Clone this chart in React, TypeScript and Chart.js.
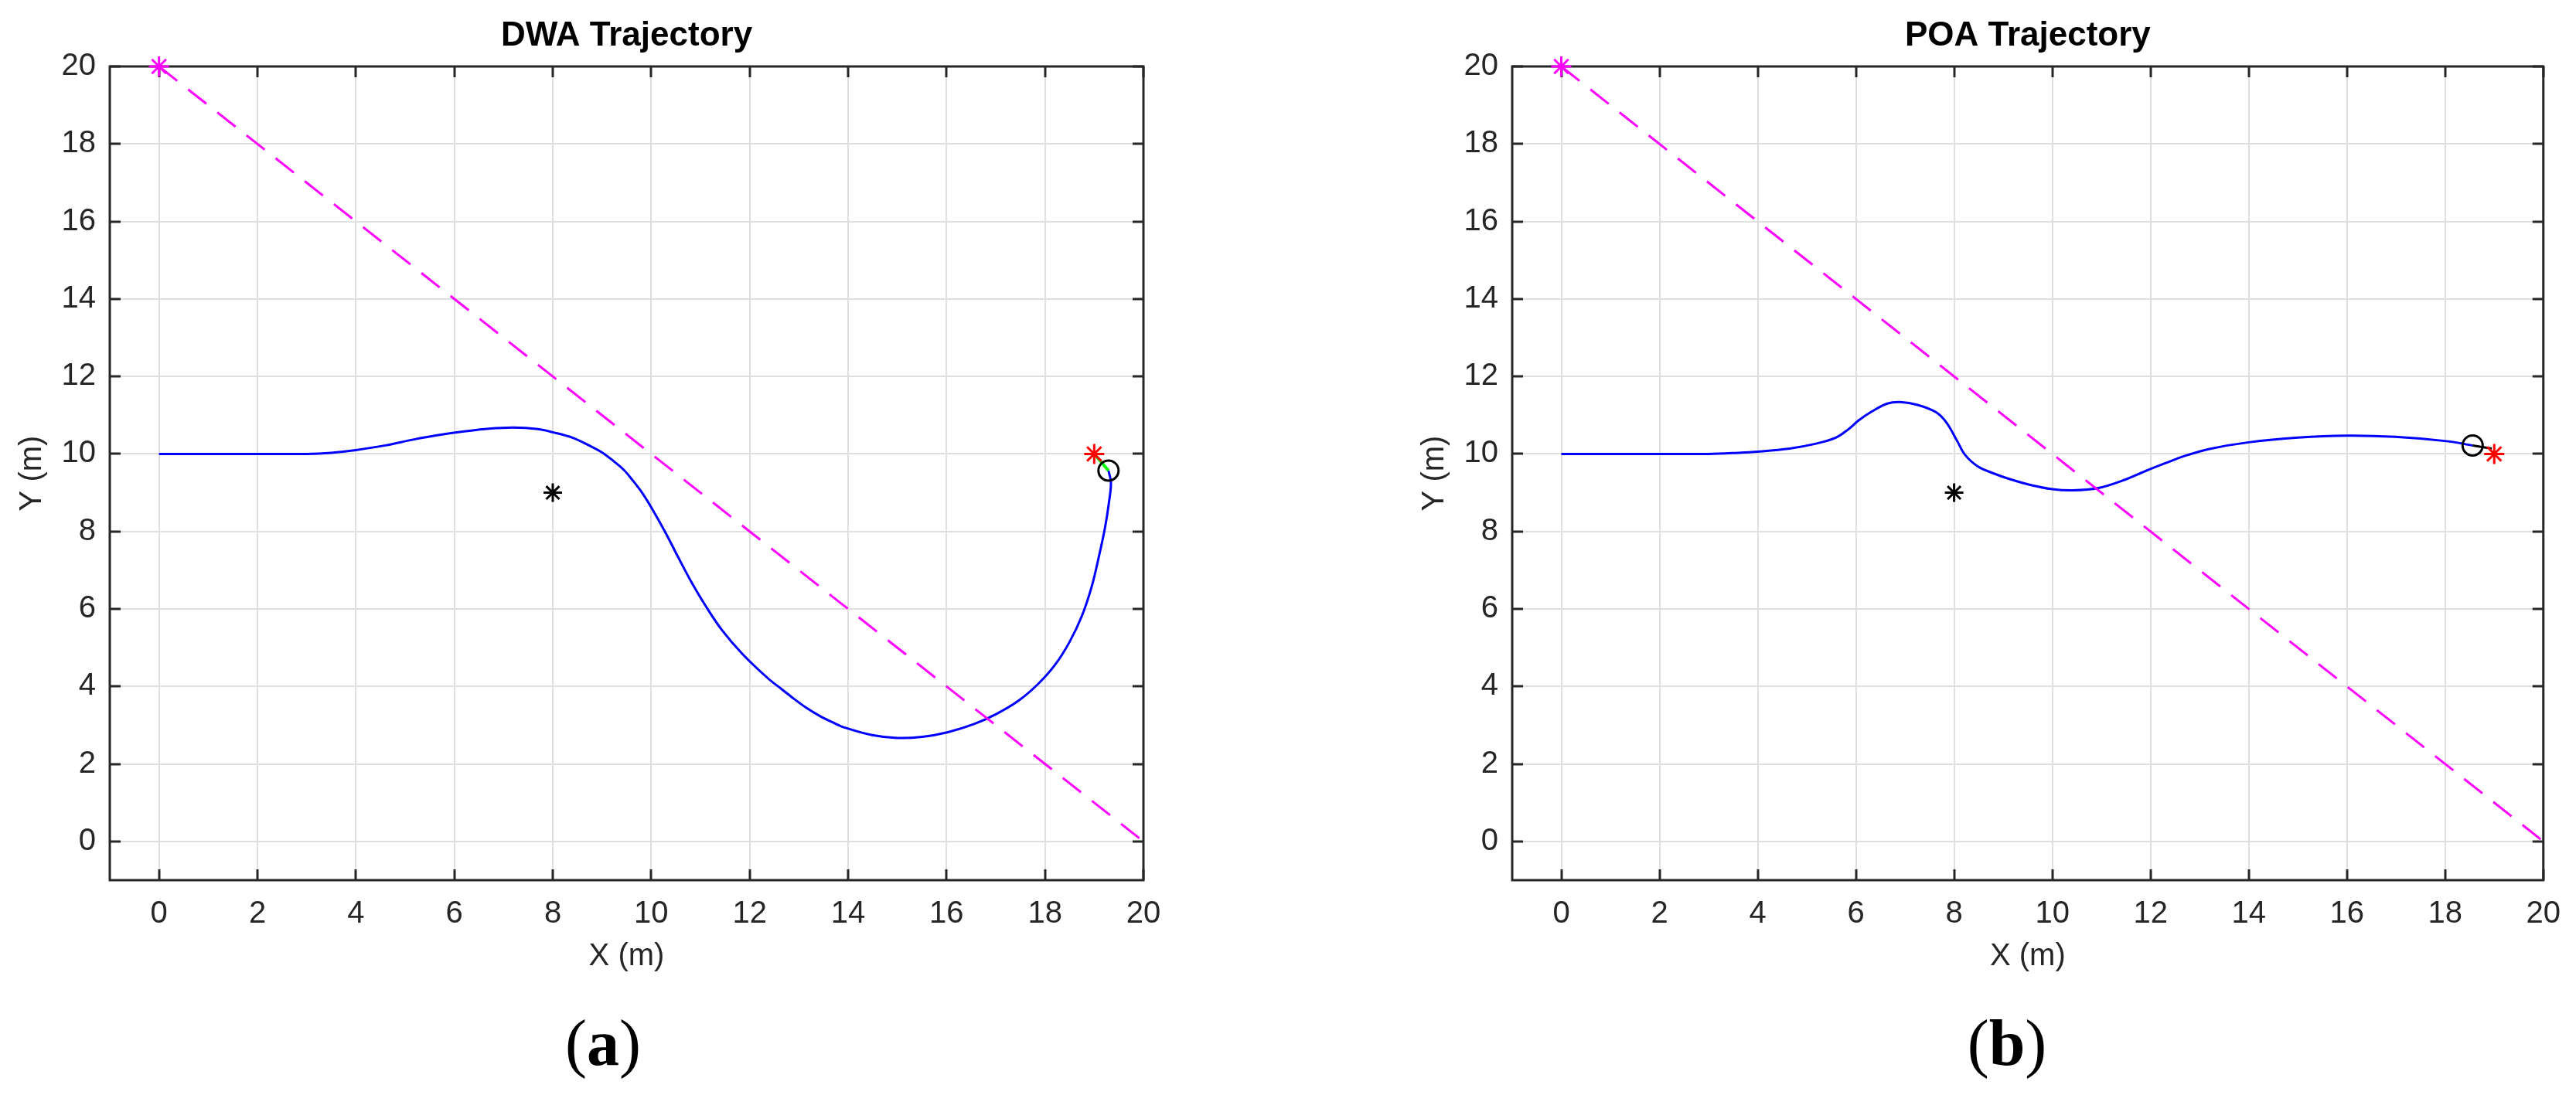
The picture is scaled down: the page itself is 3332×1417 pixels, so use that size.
import React, { useEffect, useRef } from 'react';
import { Chart, registerables } from 'chart.js';

Chart.register(...registerables);

// ---------- data ----------
const xTicks = [0, 2, 4, 6, 8, 10, 12, 14, 16, 18, 20];
const yTicks = [0, 2, 4, 6, 8, 10, 12, 14, 16, 18, 20];

const dwaX = [0, 1, 2, 3, 3.5, 4, 4.6, 5.2, 5.8, 6.2, 6.7, 7.2, 7.7, 8.0, 8.4, 8.72, 9.0, 9.24, 9.45, 9.61, 9.82, 10.03, 10.29, 10.55, 10.81, 11.12, 11.44, 11.86, 12.38, 12.64, 12.9, 13.16, 13.42, 13.69, 13.95, 14.47, 14.99, 15.51, 16.03, 16.56, 17.0, 17.45, 17.85, 18.2, 18.5, 18.75, 18.95, 19.1, 19.22, 19.3, 19.34, 19.29];
const dwaY = [10, 10, 10, 10, 10.03, 10.1, 10.22, 10.38, 10.51, 10.58, 10.65, 10.68, 10.64, 10.56, 10.42, 10.23, 10.04, 9.81, 9.58, 9.34, 8.99, 8.56, 7.97, 7.33, 6.71, 6.05, 5.45, 4.83, 4.2, 3.94, 3.68, 3.44, 3.24, 3.07, 2.93, 2.75, 2.67, 2.7, 2.82, 3.03, 3.28, 3.62, 4.05, 4.55, 5.15, 5.82, 6.58, 7.38, 8.1, 8.75, 9.25, 9.57];

const poaX = [0, 1, 2, 3, 3.6, 4, 4.65, 5.17, 5.59, 5.85, 6.06, 6.33, 6.64, 6.9, 7.27, 7.64, 7.85, 8.06, 8.22, 8.48, 8.8, 9.11, 9.55, 10.0, 10.42, 10.94, 11.47, 11.9, 12.3, 12.7, 13.2, 14, 15, 16, 16.98, 18.03, 18.56];
const poaY = [10, 10, 10, 10, 10.03, 10.06, 10.14, 10.26, 10.42, 10.64, 10.87, 11.1, 11.3, 11.34, 11.26, 11.07, 10.8, 10.34, 9.98, 9.68, 9.5, 9.36, 9.2, 9.09, 9.06, 9.12, 9.33, 9.56, 9.76, 9.95, 10.13, 10.3, 10.42, 10.47, 10.44, 10.33, 10.22];

const refLineX = [0, 20];
const refLineY = [20, 0];
const startPoint = [0, 20];
const obstaclePoint = [8, 9];
const goalPoint = [19, 10];

const dwaEnd = [19.29, 9.57];
const dwaTailX = [19.29, 19.0];
const dwaTailY = [9.57, 10.0];

const poaEnd = [18.56, 10.22];
const poaTailX = [18.56, 18.95];
const poaTailY = [10.22, 10.14];

// ---------- helpers ----------
const FONT = '"Liberation Sans", Arial, Helvetica, sans-serif';
const pts = (xs: number[], ys: number[]) => xs.map((x, i) => ({ x, y: ys[i] }));

const framePlugin = {
  id: 'frame',
  beforeDatasetsDraw(chart: any) {
    const { ctx, chartArea: a, scales } = chart;
    ctx.save();
    ctx.strokeStyle = '#262626';
    ctx.lineWidth = 3;
    const tl = 14;
    ctx.beginPath();
    for (const v of xTicks) {
      const px = Math.round(scales.x.getPixelForValue(v));
      ctx.moveTo(px, a.bottom);
      ctx.lineTo(px, a.bottom - tl);
      ctx.moveTo(px, a.top);
      ctx.lineTo(px, a.top + tl);
    }
    for (const v of yTicks) {
      const py = Math.round(scales.y.getPixelForValue(v));
      ctx.moveTo(a.left, py);
      ctx.lineTo(a.left + tl, py);
      ctx.moveTo(a.right, py);
      ctx.lineTo(a.right - tl, py);
    }
    ctx.stroke();
    ctx.strokeRect(a.left, a.top, a.right - a.left, a.bottom - a.top);
    ctx.restore();
  },
  afterDraw(chart: any, _args: any, opts: any) {
    const { ctx, chartArea: a } = chart;
    const cx = (a.left + a.right) / 2;
    ctx.save();
    ctx.textAlign = 'center';
    ctx.textBaseline = 'middle';
    ctx.fillStyle = '#000000';
    ctx.font = `bold 44px ${FONT}`;
    ctx.fillText(opts.title, cx, 47);
    ctx.fillStyle = '#262626';
    ctx.font = `40px ${FONT}`;
    ctx.fillText(opts.xLabel, cx, 1238);
    ctx.translate(a.left - 100, (a.top + a.bottom) / 2);
    ctx.rotate(-Math.PI / 2);
    ctx.fillText(opts.yLabel, 0, 0);
    ctx.restore();
  },
};

function buildConfig(title: string, tx: number[], ty: number[], endPt: number[], tailX: number[], tailY: number[], tailColor: string, tailWidth: number, padL: number, padR: number) {
  const marker = (p: number[], style: string, color: string, r: number) => ({
    data: [{ x: p[0], y: p[1] }],
    showLine: false,
    pointStyle: style,
    pointRadius: r,
    pointBorderWidth: 3,
    borderColor: color,
    pointBorderColor: color,
    backgroundColor: 'rgba(0,0,0,0)',
    pointBackgroundColor: 'rgba(0,0,0,0)',
    clip: false,
  });
  return {
    type: 'scatter',
    data: {
      datasets: [
        marker(startPoint, 'star', '#ff00ff', 13),
        marker(goalPoint, 'star', '#ff0000', 13),
        marker(obstaclePoint, 'star', '#000000', 12),
        marker(endPt, 'circle', '#000000', 13),
        {
          data: pts(tailX, tailY),
          showLine: true,
          pointRadius: 0,
          borderColor: tailColor,
          borderWidth: tailWidth,
        },
        {
          data: pts(refLineX, refLineY),
          showLine: true,
          pointRadius: 0,
          borderColor: '#ff00ff',
          borderWidth: 3,
          borderDash: [30, 18],
        },
        {
          data: pts(tx, ty),
          showLine: true,
          pointRadius: 0,
          borderColor: '#0000ff',
          borderWidth: 3,
          tension: 0.35,
        },
      ],
    },
    options: {
      animation: false,
      responsive: false,
      events: [],
      layout: { padding: { left: padL, right: padR, top: 86, bottom: 218 } },
      plugins: {
        legend: { display: false },
        tooltip: { enabled: false },
        title: { display: false },
        frame: { title, xLabel: 'X (m)', yLabel: 'Y (m)' },
      },
      scales: {
        x: {
          type: 'linear',
          min: -1,
          max: 20,
          afterBuildTicks: (s: any) => { s.ticks = xTicks.map((v) => ({ value: v })); },
          afterFit: (s: any) => { s.height = 60; },
          grid: { color: '#dfdfdf', lineWidth: 2, drawTicks: false },
          border: { display: false },
          ticks: { padding: 20, color: '#262626', font: { family: FONT, size: 40 }, maxRotation: 0, autoSkip: false },
        },
        y: {
          type: 'linear',
          min: -1,
          max: 20,
          afterBuildTicks: (s: any) => { s.ticks = yTicks.map((v) => ({ value: v })); },
          afterFit: (s: any) => { s.width = 142; },
          grid: { color: '#dfdfdf', lineWidth: 2, drawTicks: false },
          border: { display: false },
          ticks: { padding: 18, color: '#262626', font: { family: FONT, size: 40 }, autoSkip: false },
        },
      },
    },
    plugins: [framePlugin],
  };
}

function Panel(props: { left: number; cfg: () => any }) {
  const ref = useRef<HTMLCanvasElement>(null);
  useEffect(() => {
    const chart = new Chart(ref.current as HTMLCanvasElement, props.cfg() as any);
    return () => chart.destroy();
  }, []);
  return (
    <canvas
      ref={ref}
      width={1666}
      height={1417}
      style={{ position: 'absolute', left: props.left, top: 0, width: 1666, height: 1417 }}
    />
  );
}

const capStyle = (cx: number): React.CSSProperties => ({
  position: 'absolute',
  left: cx,
  top: 1350,
  transform: 'translate(-50%, -50%)',
  fontFamily: '"Liberation Serif", "Times New Roman", serif',
  fontSize: 84,
  lineHeight: 1,
  color: '#000',
  whiteSpace: 'nowrap',
});

export default function App() {
  return (
    <div style={{ position: 'absolute', left: 0, top: 0, width: 3332, height: 1417, background: '#fff', overflow: 'hidden' }}>
      <Panel left={0} cfg={() => buildConfig('DWA Trajectory', dwaX, dwaY, dwaEnd, dwaTailX, dwaTailY, '#00ff00', 4, 0, 187)} />
      <Panel left={1666} cfg={() => buildConfig('POA Trajectory', poaX, poaY, poaEnd, poaTailX, poaTailY, '#000000', 3, 148, 42)} />
      <div style={capStyle(780)}>(<b>a</b>)</div>
      <div style={capStyle(2596)}>(<b>b</b>)</div>
    </div>
  );
}
